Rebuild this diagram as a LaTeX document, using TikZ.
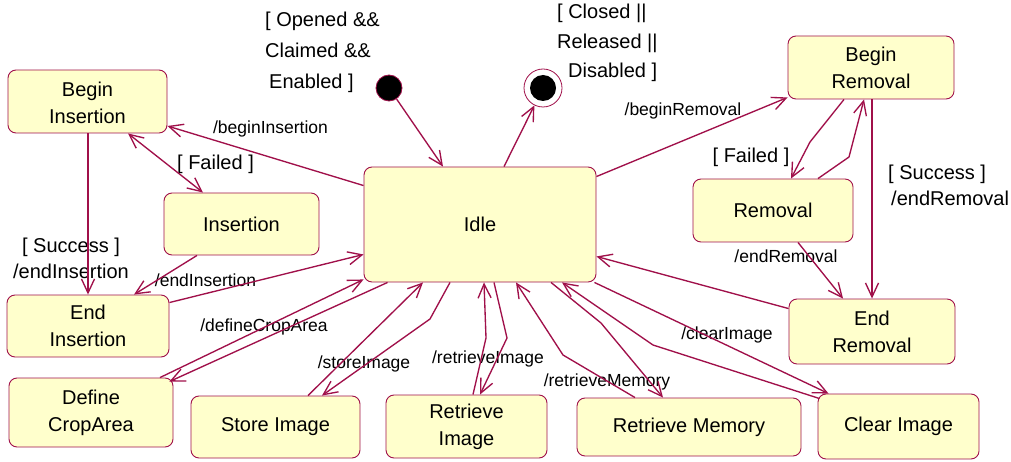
\documentclass[tikz,border=0pt]{standalone}
\usepackage{fontspec}
\setmainfont{Liberation Sans}
\usetikzlibrary{arrows.meta}
\definecolor{edgec}{HTML}{A0104A}
\definecolor{fillc}{HTML}{FFFFCC}
\begin{document}
\begin{tikzpicture}[x=1pt,y=-1pt,
  st/.style={draw=edgec, fill=fillc, rounded corners=8pt, line width=0.9pt, inner sep=0pt, align=center, font=\fontsize{20}{27}\selectfont},
  tr/.style={draw=edgec, line width=1.35pt, -{Straight Barb[length=14pt,width=13pt]}},
  both/.style={draw=edgec, line width=1.35pt, {Straight Barb[length=14pt,width=13pt]}-{Straight Barb[length=14pt,width=13pt]}},
  act/.style={font=\fontsize{17.5}{20}\selectfont, inner sep=0pt},
  grd/.style={font=\fontsize{20}{26}\selectfont, inner sep=0pt},
]
\useasboundingbox (0,0) rectangle (1011,462);

% states
\node[st, minimum width=159pt, minimum height=63pt] (bi) at (87.5,101.5) {\raisebox{-3.5pt}[\height][\depth]{\begin{tabular}{@{}c@{}}Begin\\Insertion\end{tabular}}};
\node[st, minimum width=155pt, minimum height=62pt] (ins) at (241.5,224) {Insertion};
\node[st, minimum width=162pt, minimum height=62pt] (ei) at (88,326) {End\\Insertion};
\node[st, minimum width=164pt, minimum height=69pt] (dca) at (91,412.5) {Define\\CropArea};
\node[st, minimum width=169pt, minimum height=62pt] (si) at (275.5,427) {Store Image};
\node[st, minimum width=161pt, minimum height=63pt] (ri) at (466.5,426.5) {Retrieve\\Image};
\node[st, minimum width=224pt, minimum height=58pt] (rm) at (689,427) {Retrieve Memory};
\node[st, minimum width=161pt, minimum height=65pt] (ci) at (898.5,426.5) {Clear Image};
\node[st, minimum width=166pt, minimum height=65pt] (er) at (872,331.5) {End\\Removal};
\node[st, minimum width=160pt, minimum height=63pt] (rem) at (773,210.5) {Removal};
\node[st, minimum width=166pt, minimum height=63pt] (br) at (871,67.5) {Begin\\Removal};
\node[st, minimum width=232pt, minimum height=115pt] (idle) at (480,224.5) {Idle};

% pseudo states
\node[circle, fill=black, draw=edgec, line width=0.8pt, minimum size=26pt, inner sep=0pt] (init) at (389,88) {};
\node[circle, fill=white, draw=edgec, line width=0.8pt, minimum size=38pt, inner sep=0pt] (fin) at (543,88) {};
\fill[black] (fin.center) circle (13pt);

% guard texts
\node[grd, font=\fontsize{20}{31}\selectfont, align=left, anchor=west] (gopen) at (265,52) {[ Opened \&\&\\Claimed \&\&\\\hspace*{4pt}Enabled ]};
\node[grd, font=\fontsize{20}{29.5}\selectfont, align=left, anchor=west] (gclose) at (557,43) {[ Closed ||\\Released ||\\\hspace*{11pt}Disabled ]};
\node[grd, align=center] (gsi) at (71,258) {[ Success ]\\/endInsertion};
\node[grd, align=left, anchor=west] (gsr) at (888,185) {[ Success ]\\\hspace*{3pt}/endRemoval};
\node[grd] (gfi) at (215.5,164) {[ Failed ]};
\node[grd] (gfr) at (751,157) {[ Failed ]};

% action labels
\node[act] (lbi) at (270.5,129) {/beginInsertion};
\node[act] (lei) at (205.5,280) {/endInsertion};
\node[act] (ldc) at (264,327) {/defineCropArea};
\node[act] (lsi) at (364,364) {/storeImage};
\node[act] (lri) at (488,359) {/retrieveImage};
\node[act] (lrm) at (607,382) {/retrieveMemory};
\node[act] (lci) at (727,335) {/clearImage};
\node[act] (ler) at (786,256) {/endRemoval};
\node[act] (lbr) at (683,111) {/beginRemoval};

% transitions
\draw[tr] (init) -- ([xshift=-37pt]idle.north);
\draw[tr] ([xshift=24pt]idle.north) -- (fin);
\draw[tr] ([yshift=-19pt]idle.north west) -- ([yshift=-24.5pt]bi.east);
\draw[both] ([xshift=40.5pt]bi.south) -- ([xshift=-38.5pt]ins.north);
\draw[tr] ([xshift=0.5pt]bi.south) -- ([xshift=0.5pt]bi.south |- ei.north);
\draw[tr] ([xshift=-44.5pt]ins.south) -- ([xshift=46pt]ei.north);
\draw[tr] ([yshift=-8pt]ei.north east) -- ([yshift=28pt]idle.south west);
\draw[tr] ([xshift=24pt]idle.south west) -- ([xshift=-4pt,yshift=-4pt]dca.north east);
\draw[tr] ([xshift=69pt]dca.north) -- ([yshift=3pt]idle.south west);
\draw[tr] ([xshift=32.5pt]si.north) -- ([xshift=-57pt]idle.south);
\draw[tr] ([xshift=-30pt]idle.south) -- (430,319) -- ([xshift=46.5pt]si.north);
\draw[tr] ([xshift=6.5pt]ri.north) -- (486,338) -- ([xshift=4pt]idle.south);
\draw[tr] ([xshift=14pt]idle.south) -- (507,338) -- ([xshift=13.5pt]ri.north);
\draw[tr] ([xshift=-54pt]rm.north) -- (563,355) -- ([xshift=36pt]idle.south);
\draw[tr] ([xshift=71pt]idle.south) -- (601,323) -- ([xshift=-26pt]rm.north);
\draw[tr] ([xshift=2pt,yshift=-5pt]ci.north west) -- (653,345) -- ([xshift=82pt]idle.south);
\draw[tr] ([xshift=-2pt]idle.south east) -- ([xshift=11pt]ci.north west);
\draw[tr] ([yshift=-10pt]er.north west) -- ([yshift=26pt]idle.south east);
\draw[tr] ([xshift=25pt]rem.south) -- ([xshift=-29pt]er.north);
\draw[tr] (er.north |- br.south) -- (er.north);
\draw[tr] ([yshift=-10pt]idle.north east) -- ([yshift=2pt]br.south west);
\draw[tr] ([xshift=-27pt]br.south) -- (810,142) -- ([xshift=18pt]rem.north);
\draw[tr] ([xshift=45pt]rem.north) -- (849,157) -- ([xshift=-7pt]br.south);
\end{tikzpicture}
\end{document}
